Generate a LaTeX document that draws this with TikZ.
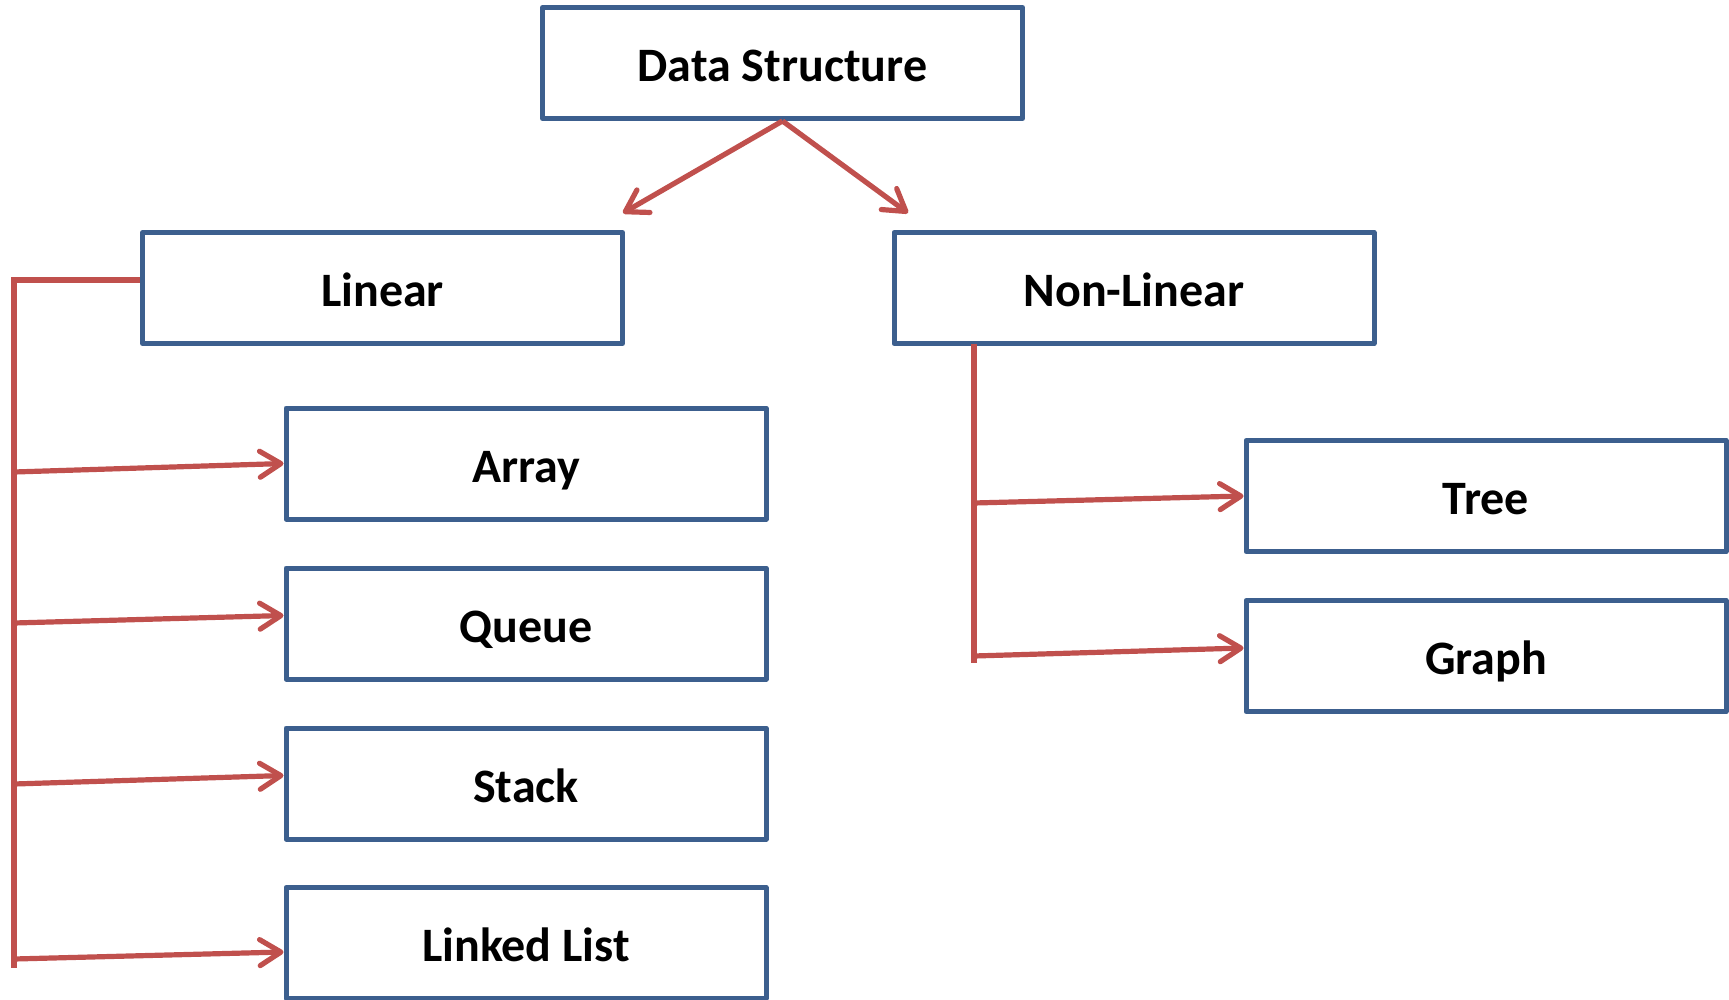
\documentclass[tikz,border=0pt]{standalone}
\usepackage{fontspec}
\setmainfont{Carlito}
\usetikzlibrary{arrows.meta,calc}

\definecolor{boxblue}{HTML}{3C5F8E}
\definecolor{linkred}{HTML}{C0504D}

\tikzset{
  catbox/.style={draw=boxblue, line width=2.5pt, line join=round, fill=white,
    minimum width=240pt, minimum height=55.5pt, inner sep=0pt,
    font=\fontsize{24}{28}\selectfont\bfseries,
    text height=18.6pt, text depth=0pt, align=center},
  link/.style={draw=linkred, line width=2.6pt},
  linkarrow/.style={link, -{Straight Barb[length=10.5pt,width=13pt,line cap=round,line join=round]}},
}

\begin{document}
\begin{tikzpicture}[x=0.5pt, y=-0.5pt]
  \useasboundingbox (0,0) rectangle (1729,1000);

  % category boxes
  \node[catbox] (ds)  at (782.5, 63)  {Data Structure};
  \node[catbox] (lin) at (382.5, 288) {Linear};
  \node[catbox] (nl)  at (1134, 288)  {Non-Linear};
  \node[catbox] (arr) at (526, 463.5) {Array};
  \node[catbox] (que) at (526, 623.5) {Queue};
  \node[catbox] (stk) at (526, 783.5) {Stack};
  \node[catbox] (ll)  at (526, 943)   {Linked List};
  \node[catbox] (tr)  at (1486, 496)  {Tree};
  \node[catbox] (gr)  at (1486, 656)  {Graph};

  % split of the root into the two families
  \coordinate (dsl) at (623, 213);
  \coordinate (dsr) at (908, 213);
  \draw[linkarrow] (ds.south) -- (dsl);
  \draw[linkarrow] (ds.south) -- (dsr);

  % linear family: bracket down the left side
  \coordinate (lt) at (14, 280);
  \coordinate (lb) at (14, 968);
  \draw[link, line join=miter] (lin.west |- lt) -- (lt) -- (lb);
  \coordinate (la) at (14, 472);
  \coordinate (lq) at (14, 623);
  \coordinate (ls) at (14, 784);
  \coordinate (lk) at (14, 959);
  \draw[linkarrow] (la) -- (arr.west);
  \draw[linkarrow] (lq) -- ([yshift=4pt]que.west);
  \draw[linkarrow] (ls) -- ([yshift=4pt]stk.west);
  \draw[linkarrow] (lk) -- ([yshift=-4.5pt]ll.west);

  % non-linear family: bracket below the box
  \coordinate (rt) at (974, 344);
  \coordinate (rb) at (974, 663);
  \draw[link] (rt) -- (rb);
  \coordinate (rtr) at (974, 503);
  \coordinate (rgr) at (974, 656);
  \draw[linkarrow] (rtr) -- (tr.west);
  \draw[linkarrow] (rgr) -- ([yshift=4pt]gr.west);
\end{tikzpicture}
\end{document}
